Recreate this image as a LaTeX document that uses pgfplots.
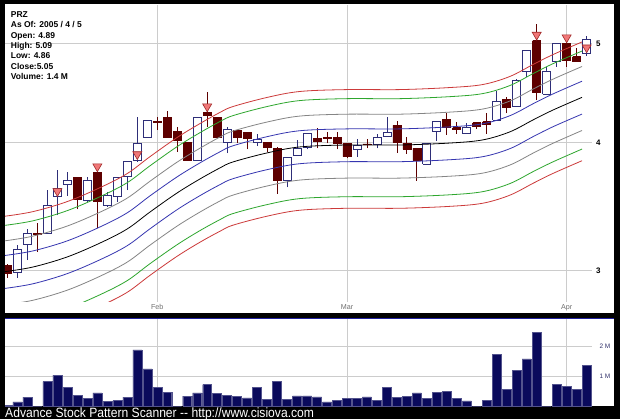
\documentclass[border=0pt]{standalone}
\usepackage{graphicx}
\usepackage{pgfplots}
\usepackage{pgfplotstable}
\pgfplotsset{compat=1.18}
\usepackage{fontspec}
\setmainfont{Liberation Sans}

\definecolor{gridgray}{HTML}{CCCCCC}
\definecolor{bandred}{HTML}{CC3A3A}
\definecolor{bandgreen}{HTML}{2EA62E}
\definecolor{bandgray}{HTML}{858585}
\definecolor{bandblue}{HTML}{3535B0}
\definecolor{cred}{HTML}{5E0000}
\definecolor{cwout}{HTML}{2E2E78}
\definecolor{tripink}{HTML}{F07878}
\definecolor{tridark}{HTML}{A02828}
\definecolor{volnavy}{HTML}{0A0A5C}
\definecolor{labgray}{HTML}{707070}
\definecolor{vlab}{HTML}{30306A}
\definecolor{framenavy}{HTML}{2020A0}

% i open high low close volume(M)
\pgfplotstableread{
i o h l c v
0 3.035 3.040 2.949 2.980 0.02
1 2.984 3.176 2.949 3.145 0.135
2 3.183 3.290 3.070 3.261 0.30
3 3.261 3.335 3.128 3.251 0.0
4 3.261 3.595 3.261 3.475 0.82
5 3.547 3.761 3.398 3.609 1.04
6 3.642 3.747 3.547 3.672 0.63
7 3.700 3.700 3.442 3.521 0.37
8 3.515 3.700 3.502 3.678 0.25
9 3.739 3.761 3.297 3.502 0.44
10 3.475 3.581 3.462 3.555 0.16
11 3.547 3.700 3.502 3.700 0.18
12 3.711 3.832 3.595 3.832 0.30
13 3.847 4.242 3.832 3.995 1.89
14 4.049 4.204 4.045 4.204 1.25
15 4.200 4.242 4.117 4.190 0.63
16 4.236 4.299 4.049 4.049 0.47
17 4.101 4.142 3.920 4.018 0.0
18 4.000 4.000 3.847 3.847 0.33
19 3.847 4.236 3.847 4.236 0.44
20 4.280 4.486 4.147 4.249 0.72
21 4.236 4.236 4.049 4.049 0.42
22 4.000 4.142 3.906 4.117 0.37
23 4.110 4.110 4.000 4.049 0.33
24 4.092 4.092 3.941 4.040 0.27
25 4.000 4.080 3.970 4.031 0.63
26 4.000 4.000 3.920 3.959 0.22
27 3.950 3.964 3.563 3.672 0.84
28 3.672 3.871 3.617 3.871 0.22
29 3.891 4.025 3.891 3.950 0.34
30 3.962 4.086 3.941 4.086 0.34
31 4.040 4.132 3.950 4.015 0.31
32 4.050 4.101 3.995 4.040 0.135
33 4.049 4.101 3.941 3.995 0.20
34 3.995 3.995 3.862 3.876 0.25
35 3.944 4.031 3.876 3.979 0.25
36 3.990 4.031 3.950 3.985 0.31
37 3.988 4.080 3.950 4.049 0.20
38 4.055 4.234 4.055 4.096 0.63
39 4.159 4.201 3.909 4.000 0.30
40 3.997 4.047 3.900 3.940 0.33
41 3.950 3.950 3.672 3.847 0.44
42 3.812 3.995 3.812 3.995 0.25
43 4.101 4.195 4.018 4.195 0.47
44 4.217 4.275 4.070 4.142 0.49
45 4.138 4.195 4.080 4.117 0.25
46 4.080 4.185 4.080 4.142 0.17
47 4.185 4.185 4.123 4.147 0.0
48 4.195 4.275 4.080 4.170 0.18
49 4.210 4.496 4.210 4.386 1.74
50 4.410 4.436 4.275 4.331 0.57
51 4.337 4.614 4.337 4.599 1.21
52 4.694 4.929 4.641 4.929 1.59
53 5.034 5.228 4.403 4.476 2.49
54 4.460 4.747 4.460 4.701 0.0
55 4.800 5.004 4.747 5.004 0.74
56 5.004 5.030 4.747 4.811 0.67
57 4.855 4.948 4.808 4.808 0.57
58 4.890 5.090 4.860 5.050 1.38
}\ohlc

% envelope lines: red+, green+, gray+, blue+, mid, blue-, gray-, green-, red-
\pgfplotstableread{
x r1 g1 s1 b1 m b2 s2 g2 r2
-0.25 3.389 3.320 3.206 3.102 2.991 2.880 2.776 2.662 2.593
2.55 3.424 3.354 3.240 3.134 3.022 2.910 2.804 2.690 2.620
5.96 3.502 3.431 3.314 3.205 3.091 2.977 2.868 2.751 2.680
9.26 3.614 3.541 3.420 3.308 3.190 3.072 2.960 2.839 2.766
11.97 3.730 3.654 3.529 3.414 3.292 3.170 3.055 2.930 2.854
14.27 3.876 3.797 3.667 3.548 3.421 3.294 3.175 3.045 2.966
16.98 4.046 3.964 3.828 3.703 3.571 3.439 3.314 3.178 3.096
19.28 4.176 4.091 3.951 3.822 3.686 3.550 3.421 3.281 3.196
21.28 4.282 4.195 4.051 3.919 3.779 3.639 3.507 3.363 3.276
22.58 4.339 4.251 4.106 3.972 3.830 3.688 3.554 3.409 3.321
25.99 4.429 4.339 4.190 4.054 3.909 3.764 3.628 3.479 3.389
29.29 4.489 4.398 4.247 4.109 3.962 3.815 3.677 3.526 3.435
34.00 4.508 4.417 4.265 4.126 3.979 3.832 3.693 3.541 3.450
39.31 4.508 4.417 4.265 4.126 3.979 3.832 3.693 3.541 3.450
44.32 4.529 4.437 4.285 4.145 3.997 3.849 3.709 3.557 3.465
47.62 4.560 4.468 4.315 4.174 4.025 3.876 3.735 3.582 3.490
50.33 4.644 4.550 4.394 4.251 4.099 3.947 3.804 3.648 3.554
52.63 4.770 4.673 4.513 4.366 4.210 4.054 3.907 3.747 3.650
54.63 4.878 4.779 4.615 4.464 4.305 4.146 3.995 3.831 3.732
57.54 5.019 4.917 4.749 4.594 4.430 4.266 4.111 3.943 3.841
}\bands

\pgfplotsset{
  cred body/.style={draw=cred, fill=cred, line width=0.7bp},
  cred wick/.style={draw=cred, line width=0.8bp},
  cwhite body/.style={draw=cwout, fill=white, line width=0.8bp},
  cwhite wick/.style={draw=cwout, line width=0.8bp},
  band/.style={line width=0.8bp, smooth, tension=0.55, mark=none},
}

\begin{document}
\begin{tikzpicture}[x=1bp,y=1bp]
\useasboundingbox (0,0) rectangle (620,419);
\fill[black] (0,0) rectangle (620,419);
\fill[white] (5,106) rectangle (614,415);
\fill[white] (5,13) rectangle (614,100);
\draw[framenavy, line width=1.2bp] (5,100.6) -- (614,100.6);

% ---------------- price panel ----------------
\begin{axis}[
  at={(5bp,117bp)}, anchor=south west,
  scale only axis, width=587bp, height=297bp,
  xmin=-0.25, xmax=58.54,
  ymode=log, ymin=2.793, ymax=5.455,
  axis line style={draw=none},
  tick style={draw=none},
  xtick={15,34,56}, xticklabels={Feb,Mar,Apr},
  ytick={3,4,5}, yticklabels={3,4,5},
  yticklabel pos=right,
  grid=major,
  major grid style={draw=gridgray, line width=0.7bp},
  x tick label style={font=\fontsize{7.2}{8}\selectfont, text=labgray, yshift=1bp},
  y tick label style={font=\bfseries\fontsize{8}{9}\selectfont, xshift=0.5bp},
  /pgf/number format/assume math mode=true,
]
% candles
\pgfplotsinvokeforeach{0,...,58}{
  \pgfplotstablegetelem{#1}{o}\of\ohlc \let\cO\pgfplotsretval
  \pgfplotstablegetelem{#1}{h}\of\ohlc \let\cH\pgfplotsretval
  \pgfplotstablegetelem{#1}{l}\of\ohlc \let\cL\pgfplotsretval
  \pgfplotstablegetelem{#1}{c}\of\ohlc \let\cC\pgfplotsretval
  \pgfmathsetmacro\xa{#1-0.4}
  \pgfmathsetmacro\xb{#1+0.4}
  \ifdim\cC pt<\cO pt \def\cst{cred}\else\def\cst{cwhite}\fi
  \edef\tmp{%
    \noexpand\addplot[\cst\space wick] coordinates {(#1,\cL) (#1,\cH)};
    \noexpand\addplot[\cst\space body] coordinates {(\xa,\cO) (\xb,\cO) (\xb,\cC) (\xa,\cC) (\xa,\cO)};
  }
  \tmp
}
% envelope lines
\addplot[band, bandred]   table[x=x, y=r1] {\bands};
\addplot[band, bandgreen] table[x=x, y=g1] {\bands};
\addplot[band, bandgray]  table[x=x, y=s1] {\bands};
\addplot[band, bandblue]  table[x=x, y=b1] {\bands};
\addplot[band, black]     table[x=x, y=m]  {\bands};
\addplot[band, bandblue]  table[x=x, y=b2] {\bands};
\addplot[band, bandgray]  table[x=x, y=s2] {\bands};
\addplot[band, bandgreen] table[x=x, y=g2] {\bands};
\addplot[band, bandred]   table[x=x, y=r2] {\bands};
% signal triangles
\addplot[only marks, mark=triangle*, mark size=5.2bp,
  mark options={rotate=180, fill=tripink, draw=tridark, line width=0.6bp}]
  coordinates {(5,3.585) (9,3.791) (13,3.897) (20,4.339) (53,5.100) (56,5.069) (58,4.956)};
\end{axis}

% ---------------- volume panel ----------------
\begin{axis}[
  at={(5bp,13bp)}, anchor=south west,
  scale only axis, width=587bp, height=87bp,
  xmin=-0.25, xmax=58.54,
  ymin=0, ymax=2.93,
  axis line style={draw=none},
  tick style={draw=none},
  xtick={15,34,56}, xticklabels={,,},
  ytick={1,2}, yticklabels={1 M,2 M},
  yticklabel pos=right,
  grid=major,
  major grid style={draw=gridgray, line width=0.7bp},
  y tick label style={font=\fontsize{6.5}{7}\selectfont, text=vlab, xshift=4bp},
  /pgf/number format/assume math mode=true,
  ybar, bar width=0.9,
]
\addplot[ybar, bar width=0.9, fill=volnavy, draw=volnavy!70!white, line width=0.4bp]
  table[x=i, y=v] {\ohlc};
\end{axis}

% ---------------- texts ----------------
\begin{scope}[every node/.style={anchor=base west, inner sep=0pt, font=\bfseries\fontsize{8.5}{10}\selectfont}]
\node at (10.7,401.7) {PRZ};
\node at (10.7,391.3) {As Of: 2005 / 4 / 5};
\node at (10.7,380.9) {Open: 4.89};
\node at (10.7,370.5) {High: 5.09};
\node at (10.7,360.1) {Low: 4.86};
\node at (10.7,349.7) {Close:5.05};
\node at (10.7,339.3) {Volume: 1.4 M};
\end{scope}
\node[anchor=base west, inner sep=0pt, text=white, font=\fontsize{13.5}{14}\selectfont]
  at (5,1.8) {\scalebox{0.9}[1]{Advance Stock Pattern Scanner -{}- http://www.cisiova.com}};
\end{tikzpicture}
\end{document}
